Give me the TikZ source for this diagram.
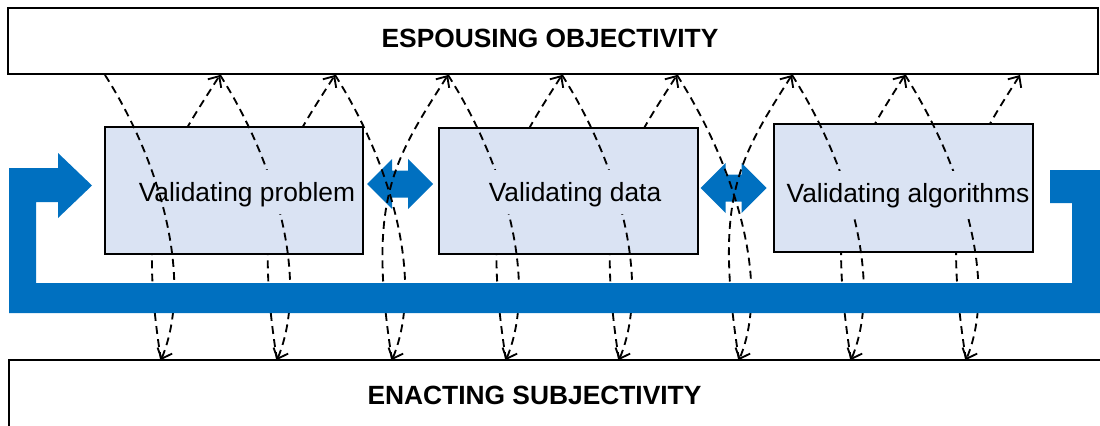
\documentclass[tikz,border=0pt]{standalone}
\usepackage{fontspec}
\setmainfont{Liberation Sans}
\usetikzlibrary{arrows.meta}
\definecolor{loopblue}{HTML}{0070C0}
\definecolor{stepfill}{HTML}{DAE3F3}
\def\dblarrow(#1,#2){\fill[loopblue, shift={(#1,#2)}] (-33,0) -- (-8,-25) -- (-8,-13.5) -- (8,-13.5) -- (8,-25) -- (33,0) -- (8,25) -- (8,13.5) -- (-8,13.5) -- (-8,25) -- cycle;}

\begin{document}
\begin{tikzpicture}[x=0.02cm, y=-0.02cm,
		outerbox/.style={line width=1.1pt},
		stepbox/.style={fill=stepfill, draw=black, line width=1.1pt},
		steplabel/.style={anchor=base, fill=stepfill, inner xsep=1pt, inner ysep=0pt, text height=0.62cm, text depth=0.26cm, font=\fontsize{15}{18}\selectfont},
		poletext/.style={anchor=base, inner sep=0pt, font=\bfseries\fontsize{15}{18}\selectfont},
		loopline/.style={dashed, dash pattern=on 4.5pt off 3pt, line width=1.05pt, -{Straight Barb[length=5pt,width=9pt]}}]
			%%%%% START %%%%%
			\useasboundingbox (0,0) rectangle (1100,426);
			
			% the two poles
			\draw[outerbox] (8,8) rectangle (1098,74);
			\draw[outerbox] (9,440) -- (9,360) -- (1120,360);
			\node[poletext] (obj) at (550,48) {ESPOUSING OBJECTIVITY};
			\node[poletext] (subj) at (534.5,404) {ENACTING SUBJECTIVITY};
			
			\foreach \x [count=\i from 0] in {105,220,335,448,562,677,792,905,1020}
				\coordinate (t\i) at (\x,75);
			\foreach \x [count=\i] in {161,277,392,506,619,739,851,966}
				\coordinate (b\i) at (\x,360);
			
			\dblarrow(400,184)
			\dblarrow(733.5,188)
			
			% going up
			\foreach \i in {1,...,8}
				\draw[loopline] (b\i) .. controls +(-25,-160) and +(-55,86) .. (t\i);
			
			\draw[stepbox] (105,127) rectangle (363,254);
			\draw[stepbox] (439,128) rectangle (698,254);
			\draw[stepbox] (774,124) rectangle (1033,252);
			
			% going down
			\foreach \i [evaluate=\i as \j using int(\i-1)] in {2,...,8}
				\draw[loopline] (t\j) .. controls +(55,86) and +(33,-80) .. (b\i);
			
			\node[steplabel] (problem) at (247,201) {Validating problem};
			\node[steplabel] (data) at (575,201) {Validating data};
			\node[steplabel] (algos) at (908,202) {Validating algorithms};
			
			\draw[loopline] (t0) .. controls +(55,86) and +(33,-80) .. (b1);
			
			% the loop back
			\fill[loopblue] (9,168) -- (58,168) -- (58,153) -- (92,185.5) -- (58,218) -- (58,202) -- (36,202) -- (36,283) -- (1072,283) -- (1072,203) -- (1050,203) -- (1050,170) -- (1100,170) -- (1100,313) -- (9,313) -- cycle;
			%%%%% END %%%%%
\end{tikzpicture}
\end{document}
